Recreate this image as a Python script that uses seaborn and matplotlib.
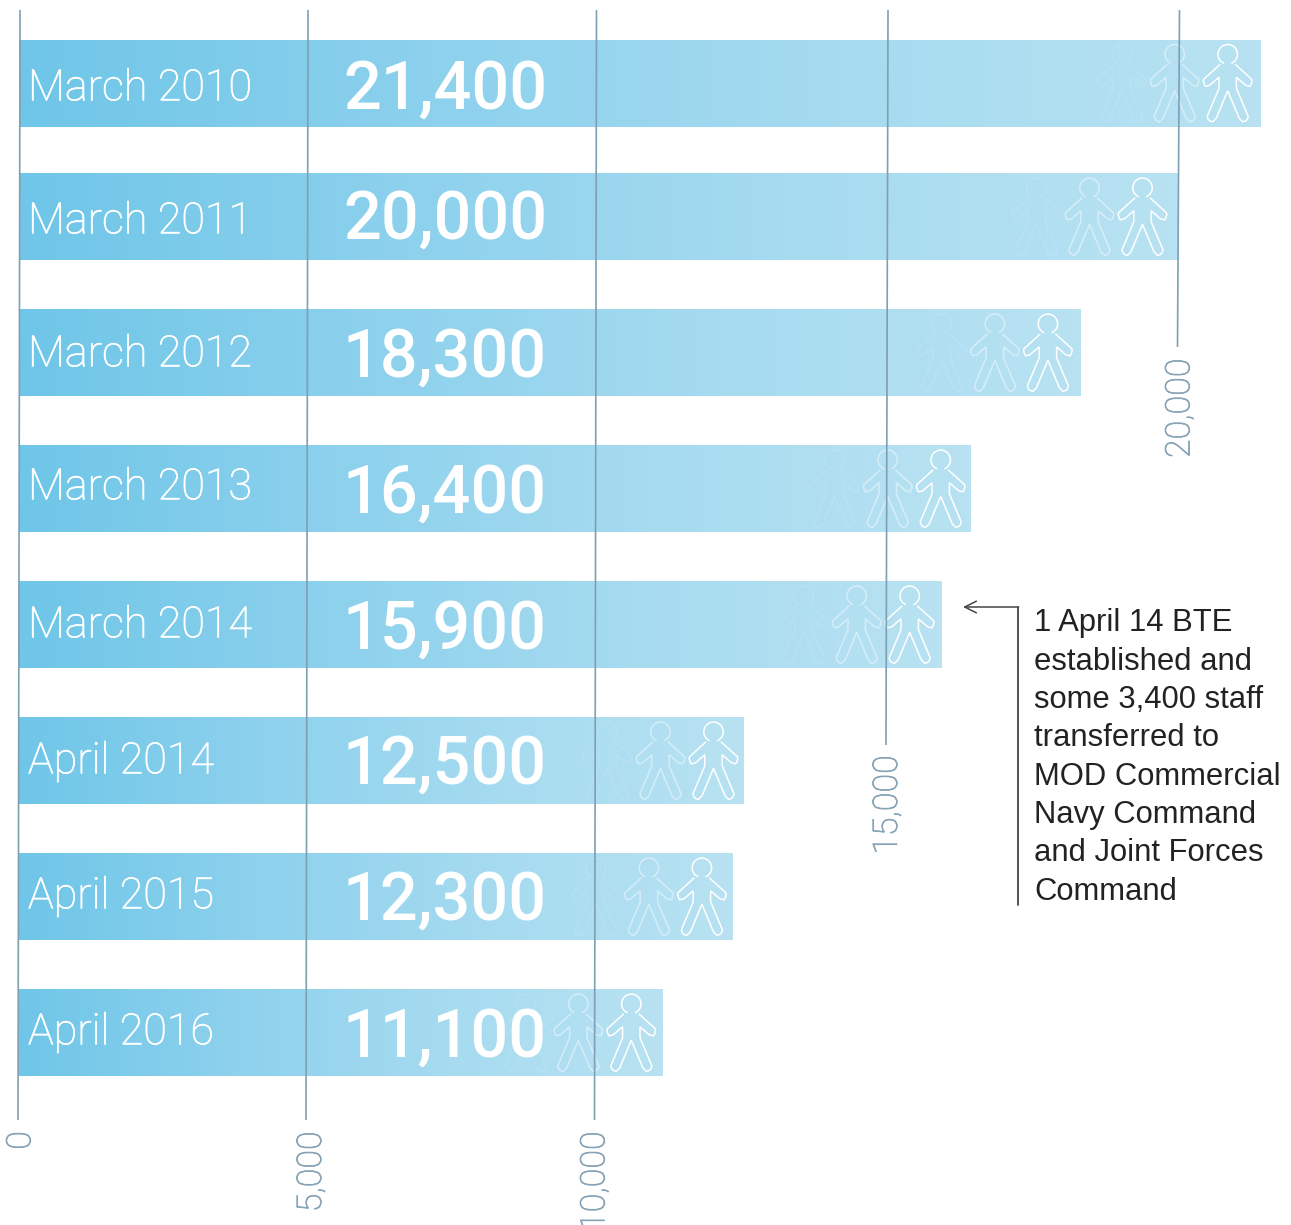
import numpy as np
import pandas as pd
import seaborn as sns
import matplotlib
matplotlib.use('Agg')
import matplotlib.pyplot as plt
import matplotlib.patheffects as pe
from matplotlib.colors import LinearSegmentedColormap
from matplotlib.patches import PathPatch
from matplotlib.path import Path
from matplotlib.transforms import Affine2D

dates = ['March 2010', 'March 2011', 'March 2012', 'March 2013', 'March 2014',
         'April 2014', 'April 2015', 'April 2016']
staff = [21400, 20000, 18300, 16400, 15900, 12500, 12300, 11100]
grid_vals = [0, 5000, 10000, 15000, 20000]
grid_labels = ['0', '5,000', '10,000', '15,000', '20,000']
note_lines = ['1 April 14 BTE', 'established and', 'some 3,400 staff', 'transferred to',
              'MOD Commercial', 'Navy Command', 'and Joint Forces', 'Command']

W, H = 1291, 1225
PX_PER_UNIT = 0.058
X0 = 18.5

# small pixel corrections, the source artwork is not perfectly regular
label_nudge = [1, 0.5, -2.5, -5.5, -3.5, -3.5, -4.5, -4.5]
value_nudge = [0, -3.5, -1.5, -1.5, -1.5, -2.5, -2.5, -1.5]
person_gap = [32, 36, 32, 29, 31, 30, 30, 31]
grid_nudge = [0.5, -1.5, -3, -1.5, 0]
grid_bottom = [1120, 1120, 1120, 745, 347]
label_top = [1131, 1131, 1131, 755, 358]
label_shift = [2.5, 5, 0, 1, 2]

GRID = '#7f9fb3'
LABEL = '#86a3b5'
sns.set_theme(style='white')
plt.rcParams['font.family'] = ['Liberation Sans', 'DejaVu Sans']


def py(p):
    # pixel row to category position
    return (p - 216.8) / 136 + 1


def px(p):
    return (p - X0) / PX_PER_UNIT


def person_path():
    # drawn in pixels, y down, head centre at the origin
    left = [(-7.5, 10), (-24, 25), (-25, 29), (-22, 32), (-18, 31), (-8.7, 23), (-8.7, 34),
            (-20.5, 62), (-20, 67), (-15, 67.5), (-11.5, 64), (0, 36.5)]
    codes_left = [Path.MOVETO, Path.LINETO, Path.CURVE3, Path.CURVE3, Path.LINETO, Path.LINETO,
                  Path.LINETO, Path.LINETO, Path.CURVE3, Path.CURVE3, Path.LINETO, Path.LINETO]
    right = [(-x, y) for x, y in left[::-1][1:]]
    codes_right = [Path.LINETO, Path.LINETO, Path.CURVE3, Path.CURVE3, Path.LINETO, Path.LINETO,
                   Path.LINETO, Path.LINETO, Path.CURVE3, Path.CURVE3, Path.LINETO]
    body = Path(left + right, codes_left + codes_right)
    head = Path.arc(112, 428)
    head = Path(head.vertices * 9.7, head.codes)
    return Path.make_compound_path(body, head)


df = pd.DataFrame({'date': dates, 'staff': staff})

fig = plt.figure(figsize=(W / 100, H / 100), dpi=100)
ax = fig.add_axes([0, 0, 1, 1])
sns.barplot(data=df, x='staff', y='date', orient='y', width=87 / 136, color='#8fd3ee', ax=ax)

cmap = LinearSegmentedColormap.from_list('bar', ['#6fc6e8', '#8dd1ed', '#a6dbf0', '#b8e2f2'])
ax.patches[0].set_y(ax.patches[0].get_y() + 2.5 / 136)
ax.set_xlim(px(0), px(W))
ax.set_ylim(py(H), py(0))

person = person_path()
thin = [pe.withStroke(linewidth=0.5, foreground='white')]
for i, bar in enumerate(ax.patches):
    x, y, w, h = bar.get_x(), bar.get_y(), bar.get_width(), bar.get_height()
    ax.imshow(np.linspace(0, 1, 256).reshape(1, -1), cmap=cmap, aspect='auto', zorder=2,
              extent=(x, x + w, y + h, y), interpolation='bilinear')
    yc = y + h / 2
    for k, alpha in enumerate([1, 0.45, 0.1]):
        cx, cy = ax.transData.transform((x + w, yc))
        tr = Affine2D().scale(1, -1).translate(cx - person_gap[i] - 53 * k, cy + 29)
        ax.add_patch(PathPatch(person, fc='none', ec='white', lw=1.1, alpha=alpha, transform=tr,
                               zorder=3, clip_on=False))
    ax.text(px(28), yc + label_nudge[i] / 136, dates[i], color='white', fontsize=31,
            family='Roboto', weight='light', va='center_baseline', ha='left', zorder=5,
            path_effects=thin)
    ax.text(px(343), yc + value_nudge[i] / 136, f'{staff[i]:,}', color='white', fontsize=48,
            family='Roboto', weight='medium', va='center_baseline', ha='left', zorder=5)

for j, (v, lab) in enumerate(zip(grid_vals, grid_labels)):
    n = grid_nudge[j]
    ax.plot([v + (n + 1) / PX_PER_UNIT, v + (n - 1) / PX_PER_UNIT], [py(10), py(grid_bottom[j])],
            color=GRID, lw=1.2, zorder=4, solid_capstyle='butt')
    ax.text(v + (n + label_shift[j]) / PX_PER_UNIT, py(label_top[j]), lab, rotation=90, color=LABEL,
            fontsize=24.5, family='Roboto', weight='light', ha='center', va='top', zorder=5,
            path_effects=[pe.withStroke(linewidth=0.5, foreground=LABEL)])

# note with arrow
ax.plot([px(1018), px(1018)], [py(607), py(905)], color='#444444', lw=1.3, zorder=4)
ax.annotate('', xy=(px(963), py(607)), xytext=(px(1018.6), py(607)),
            arrowprops=dict(arrowstyle='->,head_length=0.7,head_width=0.35', color='#444444', lw=1.1,
                            shrinkA=0, shrinkB=0))
for i, line in enumerate(note_lines):
    ax.text(px(1034), py(631.5 + 38.3 * i), line, color='#222222', fontsize=22.3,
            family='Liberation Sans', va='baseline', ha='left')

ax.set_xlabel('')
ax.set_ylabel('')
ax.set_xticks([])
ax.set_yticks([])
sns.despine(ax=ax, left=True, bottom=True)
ax.patch.set_alpha(0)

fig.savefig('out.png', dpi=100)
